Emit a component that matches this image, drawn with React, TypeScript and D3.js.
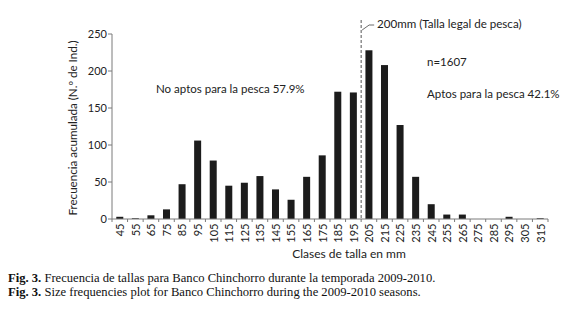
import React from "react";
import * as d3 from "d3";

const categories = ["45","55","65","75","85","95","105","115","125","135","145","155","165","175","185","195","205","215","225","235","245","255","265","275","285","295","305","315"];
const counts = [3,1,5,13,47,106,79,45,49,58,40,26,57,86,172,171,228,208,127,57,20,6,6,0,0,3,0,1];
const yTicks = [0,50,100,150,200,250];
const yTitle = "Frecuencia acumulada (N.º de Ind.)";
const xTitle = "Clases de talla en mm";
const noAptos = "No aptos para la pesca 57.9%";
const aptos = "Aptos para la pesca 42.1%";
const nLabel = "n=1607";
const legalLabel = "200mm (Talla legal de pesca)";
const legalBoundaryIndex = 16;

const W = 568, H = 316;
const FONT = "Lato, 'Open Sans', sans-serif";
const SERIF = "'Liberation Serif', 'Times New Roman', serif";

export default function App() {
  const x = d3.scaleBand<string>().domain(categories).range([112, 548]).paddingInner(0.55).paddingOuter(0.275);
  const y = d3.scaleLinear().domain([0, 250]).range([219, 34]);
  const step = x.step();
  const x0 = x.range()[0];
  const boundaries = d3.range(categories.length + 1).map(i => x0 + i * step);
  const legalX = boundaries[legalBoundaryIndex];
  const axisColor = "#7a7a7a";
  const textColor = "#222";
  return (
    <svg width={W} height={H} style={{ position: "absolute", left: 0, top: 0, background: "#fff" }} fontFamily={FONT}>
      <rect x={0} y={0} width={W} height={H} fill="#fff" />
      {categories.map((c, i) => (
        <rect key={c} x={x(c)} y={y(counts[i])} width={x.bandwidth()} height={y(0) - y(counts[i])} fill="#1c1c1c" />
      ))}
      <line x1={x0} x2={x0} y1={y(250)} y2={y(0)} stroke={axisColor} strokeWidth={1} />
      {yTicks.map(t => (
        <g key={t}>
          <line x1={x0 - 4} x2={x0} y1={y(t)} y2={y(t)} stroke={axisColor} />
          <text x={x0 - 5} y={y(t)} dy="0.35em" textAnchor="end" fontSize={11} fill={textColor}>{t}</text>
        </g>
      ))}
      <line x1={x0} x2={boundaries[boundaries.length - 1]} y1={y(0)} y2={y(0)} stroke={axisColor} />
      {boundaries.map((b, i) => (
        <line key={i} x1={b} x2={b} y1={y(0)} y2={y(0) + 3} stroke={axisColor} />
      ))}
      {categories.map(c => {
        const cx = (x(c) as number) + x.bandwidth() / 2;
        return (
          <text key={c} transform={`translate(${cx + 0.5},223.5) rotate(-90)`} textAnchor="end" dy="0.35em" fontSize={11} fill={textColor}>{c}</text>
        );
      })}
      <line x1={legalX} x2={legalX} y1={20} y2={y(0)} stroke="#555" strokeDasharray="3,2" strokeWidth={1} />
      <polyline points={`${legalX + 1},30 ${legalX + 8},25 ${legalX + 13},25`} fill="none" stroke="#444" strokeWidth={0.8} />
      <text x={377} y={28} fontSize={11.6} fill={textColor}>{legalLabel}</text>
      <text x={156} y={93} fontSize={11.5} fill={textColor}>{noAptos}</text>
      <text x={427} y={66} fontSize={11.5} fill={textColor}>{nLabel}</text>
      <text x={427} y={98} fontSize={11.5} fill={textColor}>{aptos}</text>
      <text transform="translate(77,128) rotate(-90)" textAnchor="middle" fontSize={11.6} fill={textColor}>{yTitle}</text>
      <text x={349} y={258} textAnchor="middle" fontSize={12} fill={textColor}>{xTitle}</text>
      <text x={8} y={282} fontFamily={SERIF} fontSize={12.6} fill="#111">
        <tspan fontWeight="bold">Fig. 3.</tspan> Frecuencia de tallas para Banco Chinchorro durante la temporada 2009-2010.
      </text>
      <text x={8} y={296} fontFamily={SERIF} fontSize={12.6} fill="#111">
        <tspan fontWeight="bold">Fig. 3.</tspan> Size frequencies plot for Banco Chinchorro during the 2009-2010 seasons.
      </text>
    </svg>
  );
}
